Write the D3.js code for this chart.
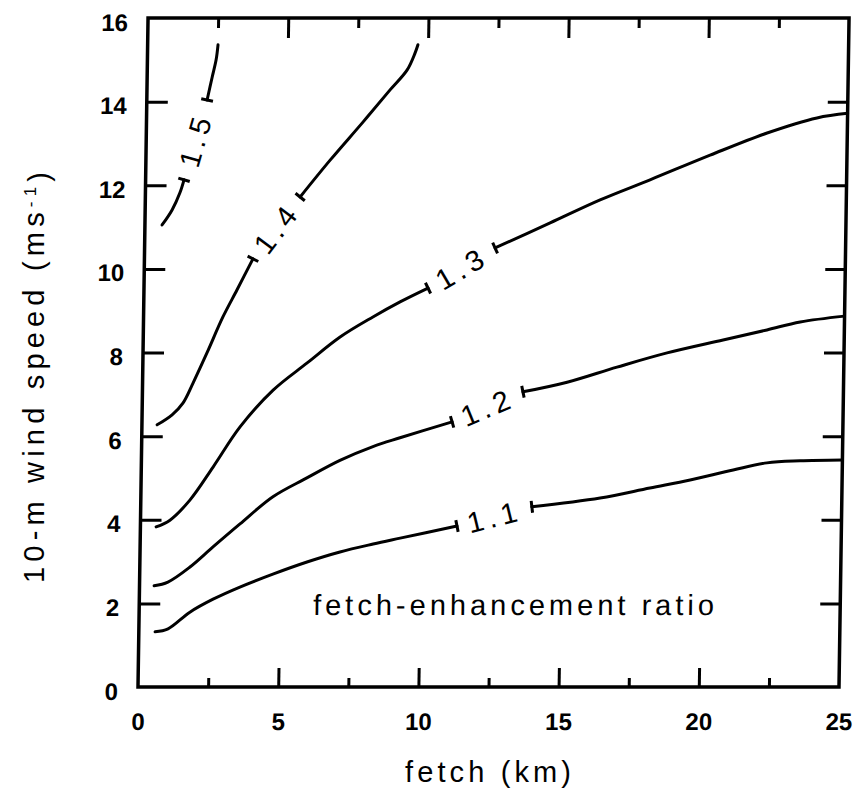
<!DOCTYPE html>
<html><head><meta charset="utf-8">
<script src="https://cdn.jsdelivr.net/npm/d3@7"></script>
<style>
body{margin:0;background:#fff}
text{font-family:"Liberation Sans Narrow","Liberation Sans",Arial,sans-serif;fill:#000}
</style>
</head><body>
<svg id="c" width="854" height="794"></svg>
<script>
// ---- data (fetch km, wind speed m/s) ----
const fetchTicks = [0, 5, 10, 15, 20, 25];
const fetchMinor = [2.5, 7.5, 12.5, 17.5, 22.5];
const speedTicks = [0, 2, 4, 6, 8, 10, 12, 14, 16];
const contourLabels = ["1.1", "1.2", "1.3", "1.4", "1.5"];

const c11a = [[0.58,1.32],[1.04,1.39],[1.81,1.79],[2.63,2.10],[3.58,2.39],[4.75,2.70],[5.96,2.99],[7.13,3.23],[8.31,3.42],[9.27,3.56],[11.29,3.85]];
const c11b = [[13.95,4.31],[16.38,4.52],[18.15,4.76],[19.58,4.95],[21.11,5.19],[22.31,5.36],[23.49,5.41],[25,5.43]];
const c12a = [[0.52,2.42],[1.01,2.51],[1.79,2.87],[2.60,3.35],[3.55,3.90],[4.71,4.55],[5.91,5.00],[7.08,5.42],[8.25,5.75],[9.21,5.96],[11.06,6.34]];
const c12b = [[13.57,7.06],[15.14,7.29],[16.91,7.65],[18.69,7.99],[20.68,8.30],[22.24,8.54],[23.42,8.73],[25,8.87]];
const c13a = [[0.56,3.83],[1.05,3.99],[1.75,4.47],[2.56,5.26],[3.50,6.22],[4.66,7.10],[5.86,7.75],[7.02,8.37],[8.18,8.85],[9.14,9.21],[10.13,9.54]];
const c13b = [[12.50,10.50],[14.45,11.10],[16.22,11.65],[17.99,12.13],[20.12,12.72],[22.14,13.25],[23.91,13.61],[25,13.72]];
const c14a = [[0.54,6.27],[1.07,6.51],[1.45,6.79],[1.80,7.27],[2.28,7.99],[2.83,8.85],[3.32,9.50],[3.87,10.24]];
const c14b = [[5.52,11.72],[6.57,12.60],[7.72,13.51],[8.67,14.28],[9.27,14.76],[9.54,15.16],[9.64,15.36]];
const c15a = [[0.61,11.05],[0.96,11.41],[1.23,11.82],[1.37,12.13]];
const c15b = [[2.15,14.04],[2.32,14.59],[2.45,15.00],[2.51,15.36]];

const contours = [[c11a,c11b],[c12a,c12b],[c13a,c13b],[c14a,c14b],[c15a,c15b]];

// ---- layout ----
const svg = d3.select("#c");
const x = d3.scaleLinear().domain([0, 25]).range([138, 839]);
const y = d3.scaleLinear().domain([0, 16]).range([687, 18]);
const skew = -0.86; // scanned page is slightly sheared
const g = svg.append("g")
  .attr("transform", `translate(0,${y(0)}) skewX(${skew}) translate(0,${-y(0)})`);

// frame
g.append("rect")
  .attr("x", x(0)).attr("y", y(16))
  .attr("width", x(25) - x(0)).attr("height", y(0) - y(16))
  .attr("fill", "none").attr("stroke", "#000").attr("stroke-width", 3.5);

function styleAxis(sel) {
  sel.select(".domain").remove();
  sel.selectAll("line").attr("stroke", "#000").attr("stroke-width", 3);
}
// ticks (inward)
g.append("g").attr("transform", `translate(0,${y(0)})`)
  .call(d3.axisBottom(x).tickValues(fetchTicks.slice(1, -1)).tickSizeInner(-19).tickSizeOuter(0).tickFormat(""))
  .call(styleAxis);
g.append("g").attr("transform", `translate(0,${y(0)})`)
  .call(d3.axisBottom(x).tickValues(fetchMinor).tickSizeInner(-9).tickSizeOuter(0).tickFormat(""))
  .call(styleAxis);
g.append("g").attr("transform", `translate(0,${y(16)})`)
  .call(d3.axisTop(x).tickValues(fetchTicks.slice(1, -1)).tickSizeInner(-20).tickSizeOuter(0).tickFormat(""))
  .call(styleAxis);
g.append("g").attr("transform", `translate(0,${y(16)})`)
  .call(d3.axisTop(x).tickValues(fetchMinor).tickSizeInner(-10).tickSizeOuter(0).tickFormat(""))
  .call(styleAxis);
g.append("g").attr("transform", `translate(${x(0)},0)`)
  .call(d3.axisLeft(y).tickValues(speedTicks.slice(1, -1)).tickSizeInner(-21).tickSizeOuter(0).tickFormat(""))
  .call(styleAxis);
g.append("g").attr("transform", `translate(${x(25)},0)`)
  .call(d3.axisRight(y).tickValues(speedTicks.slice(1, -1)).tickSizeInner(-20).tickSizeOuter(0).tickFormat(""))
  .call(styleAxis);

// tick labels
const tickFont = '"Liberation Sans",Arial,sans-serif';
const xl = g.append("g").attr("transform", `translate(0,${y(0)})`)
  .call(d3.axisBottom(x).tickValues(fetchTicks).tickSize(0).tickPadding(26).tickFormat(d3.format("d")));
xl.select(".domain").remove();
xl.selectAll("text").style("font-size", "24px").style("font-weight", "bold").style("font-family", tickFont);

const yl = g.append("g").attr("transform", `translate(${x(0)},0)`)
  .call(d3.axisLeft(y).tickValues(speedTicks).tickSize(0).tickPadding(20).tickFormat(d3.format("d")));
yl.select(".domain").remove();
yl.selectAll("text").attr("dy", "0.5em").style("font-size", "24px").style("font-weight", "bold").style("font-family", tickFont);

// contours
const line = d3.line().x(d => x(d[0])).y(d => y(d[1])).curve(d3.curveCatmullRom.alpha(0.5));
const cg = g.append("g");
contours.forEach((segs, i) => {
  segs.forEach(s => {
    cg.append("path").attr("d", line(s))
      .attr("fill", "none").attr("stroke", "#000").attr("stroke-width", 3)
      .attr("stroke-linecap", "round");
  });
  const a = segs[0], b = segs[1];
  const p1 = [x(a[a.length-1][0]), y(a[a.length-1][1])];
  const p0 = [x(a[a.length-2][0]), y(a[a.length-2][1])];
  const q1 = [x(b[0][0]), y(b[0][1])];
  const q2 = [x(b[1][0]), y(b[1][1])];
  // end bars perpendicular to the line
  [[p1, p0], [q1, q2]].forEach(([p, r]) => {
    const dx = r[0] - p[0], dy = r[1] - p[1];
    const L = Math.hypot(dx, dy);
    const nx = -dy / L * 6, ny = dx / L * 6;
    cg.append("line")
      .attr("x1", p[0] - nx).attr("y1", p[1] - ny)
      .attr("x2", p[0] + nx).attr("y2", p[1] + ny)
      .attr("stroke", "#000").attr("stroke-width", 3);
  });
  const mx = (p1[0] + q1[0]) / 2, my = (p1[1] + q1[1]) / 2;
  const ang = Math.atan2(q1[1] - p1[1], q1[0] - p1[0]) * 180 / Math.PI;
  cg.append("text")
    .attr("transform", `translate(${mx},${my}) rotate(${ang})`)
    .attr("text-anchor", "middle").attr("dy", "0.36em")
    .style("font-size", "29px").style("letter-spacing", "5px")
    .text(contourLabels[i]);
});

// annotation inside the plot
g.append("text")
  .attr("x", x(6.2)).attr("y", y(1.72))
  .attr("textLength", 401).attr("lengthAdjust", "spacing")
  .style("font-size", "29px")
  .text("fetch-enhancement ratio");

// axis titles
svg.append("text")
  .attr("x", 405).attr("y", 782)
  .attr("textLength", 166).attr("lengthAdjust", "spacing")
  .style("font-size", "29px")
  .text("fetch (km)");

const yt = svg.append("text")
  .attr("transform", "translate(44,583) rotate(-90)")
  .style("font-size", "29px");
yt.append("tspan").text("10-m wind speed (ms");
yt.append("tspan").attr("dy", "-0.45em").style("font-size", "17px").text("-1");
yt.append("tspan").attr("dy", "0.45em").text(")");
yt.attr("textLength", 411).attr("lengthAdjust", "spacing");
</script>
</body></html>
